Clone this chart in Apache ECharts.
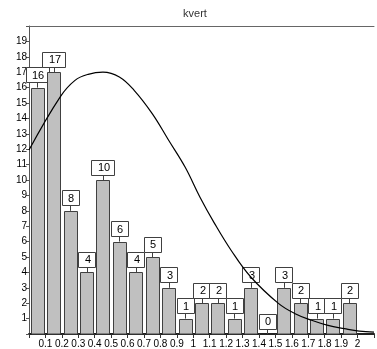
<!DOCTYPE html>
<html>
<head>
<meta charset="utf-8">
<script src="https://cdn.jsdelivr.net/npm/echarts@6/dist/echarts.min.js"></script>
<style>
  html, body { margin: 0; padding: 0; background: #fff; }
  #chart { width: 377px; height: 349px; }
</style>
</head>
<body>
<div id="chart"></div>
<script>
// Histogram of kvert: bin lower edges, bin width and counts
var binLow = [0, 0.1, 0.2, 0.3, 0.4, 0.5, 0.6, 0.7, 0.8, 0.9, 1.0, 1.1, 1.2, 1.3, 1.4, 1.5, 1.6, 1.7, 1.8, 1.9];
var binWidth = 0.1;
var counts = [16, 17, 8, 4, 10, 6, 4, 5, 3, 1, 2, 2, 1, 3, 0, 3, 2, 1, 1, 2];

// Fitted density curve (scaled to counts)
var curveX = [0, 0.19, 0.28, 0.36, 0.45, 0.55, 0.64, 0.75, 0.85, 0.95, 1.04, 1.13, 1.23, 1.35, 1.52, 1.62, 1.72, 1.82, 1.92, 2.01, 2.1];
var curveY = [11.95, 15.4, 16.47, 16.86, 17.0, 16.69, 15.82, 14.31, 12.58, 10.84, 8.9, 7.17, 5.44, 3.7, 1.97, 1.32, 0.89, 0.56, 0.35, 0.19, 0.12];

// Axis tick labels
var xTickLabels = ['0.1', '0.2', '0.3', '0.4', '0.5', '0.6', '0.7', '0.8', '0.9', '1', '1.1', '1.2', '1.3', '1.4', '1.5', '1.6', '1.7', '1.8', '1.9', '2'];
var yTickLabels = ['1', '2', '3', '4', '5', '6', '7', '8', '9', '10', '11', '12', '13', '14', '15', '16', '17', '18', '19'];

var FONT = 'Arial, "Liberation Sans", sans-serif';

var barData = binLow.map(function (lo, i) { return [lo, counts[i]]; });
var curveData = curveX.map(function (x, i) { return [x, curveY[i]]; });

var chart = echarts.init(document.getElementById('chart'), null, { renderer: 'canvas' });

chart.setOption({
  animation: false,
  backgroundColor: '#ffffff',
  title: {
    text: 'kvert',
    left: 195,
    top: 8,
    padding: 0,
    textAlign: 'center',
    textStyle: { fontFamily: FONT, fontSize: 11, fontWeight: 'normal', color: '#333333' }
  },
  grid: { left: 29, right: 0, top: 26, bottom: 15 },
  xAxis: [{
    type: 'value',
    min: 0,
    max: 2.1,
    interval: 0.1,
    axisLine: { show: true, lineStyle: { color: '#222222', width: 2 } },
    axisTick: { show: true, length: 4, lineStyle: { color: '#333333' } },
    splitLine: { show: false },
    axisLabel: {
      margin: 5,
      fontFamily: FONT,
      fontSize: 10,
      color: '#000000',
      formatter: function (v) {
        var i = Math.round(v * 10);
        return (i >= 1 && i <= xTickLabels.length) ? xTickLabels[i - 1] : '';
      }
    }
  }, {
    type: 'value',
    position: 'top',
    min: 0,
    max: 2.1,
    axisLine: { show: true, lineStyle: { color: '#666666', width: 1 } },
    axisTick: { show: false },
    axisLabel: { show: false },
    splitLine: { show: false }
  }],
  yAxis: {
    type: 'value',
    min: 0,
    max: 20,
    interval: 1,
    axisLine: { show: true, lineStyle: { color: '#555555', width: 1 } },
    axisTick: { show: true, length: 3, lineStyle: { color: '#555555' } },
    splitLine: { show: false },
    axisLabel: {
      margin: 2,
      fontFamily: FONT,
      fontSize: 10,
      color: '#000000',
      formatter: function (v) {
        var i = Math.round(v);
        return (i >= 1 && i <= yTickLabels.length) ? yTickLabels[i - 1] : '';
      }
    }
  },
  series: [{
    type: 'custom',
    clip: false,
    z: 3,
    data: barData,
    renderItem: function (params, api) {
      var lo = api.value(0);
      var v = api.value(1);
      var p0 = api.coord([lo, 0]);
      var p1 = api.coord([lo + binWidth, v]);
      var inset = 1.7;
      var x0 = p0[0] + inset;
      var x1 = p1[0] - inset;
      var yTop = p1[1];
      var yBase = p0[1];
      var cx = (x0 + x1) / 2;
      var txt = String(v);
      var bw = txt.length > 1 ? 23 : 17;
      var bh = 15;
      var gap = 5.5;
      var boxBottom = yTop - gap;
      var children = [];
      if (v > 0) {
        children.push({
          type: 'rect',
          shape: { x: Math.round(x0) + 0.5, y: Math.round(yTop) + 0.5, width: Math.round(x1 - x0), height: yBase - Math.round(yTop) - 0.5 },
          style: { fill: '#c0c0c0', stroke: '#404040', lineWidth: 1 }
        });
      }
      children.push({
        type: 'line',
        shape: { x1: Math.round(cx) + 0.5, y1: boxBottom, x2: Math.round(cx) + 0.5, y2: yTop },
        style: { stroke: '#404040', lineWidth: 1 }
      });
      children.push({
        type: 'rect',
        shape: { x: Math.round(cx - bw / 2) + 0.5, y: Math.round(boxBottom - bh) + 0.5, width: bw, height: bh },
        style: { fill: '#ffffff', stroke: '#404040', lineWidth: 1 }
      });
      children.push({
        type: 'text',
        style: {
          x: Math.round(cx) + 1,
          y: Math.round(boxBottom - bh / 2) + 1,
          text: txt,
          align: 'center',
          verticalAlign: 'middle',
          font: '11px ' + FONT,
          fill: '#000000'
        }
      });
      return { type: 'group', children: children };
    }
  }, {
    type: 'line',
    data: curveData,
    smooth: 0.4,
    symbol: 'none',
    z: 4,
    lineStyle: { color: '#000000', width: 1.2 }
  }]
});
</script>
</body>
</html>
